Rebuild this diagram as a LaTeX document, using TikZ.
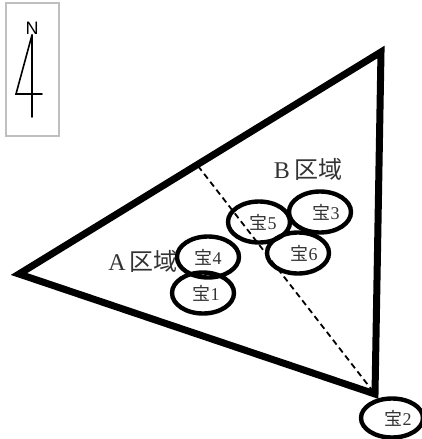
\documentclass[tikz,border=0pt]{standalone}
\usepackage{fontspec}
\setmainfont{Liberation Serif}
\setsansfont{Liberation Sans}
\newfontfamily\cjk{Noto Sans CJK JP}
\usetikzlibrary{shapes.geometric}
\tikzset{
  treasure/.style={ellipse,draw=black,line width=4.4pt,text=black!80,minimum width=62pt,minimum height=41pt,inner sep=0pt,font=\fontsize{18}{18}\selectfont},
  edgeline/.style={line width=7pt,line join=miter,miter limit=10},
  split/.style={line width=1.8pt,dash pattern=on 6pt off 4pt},
  compass/.style={line width=1.6pt,line cap=round},
  zone/.style={inner sep=0pt,text=black!80,font=\fontsize{24}{24}\selectfont}
}
\newcommand{\takara}[1]{{\cjk 宝}#1}
\begin{document}
\begin{tikzpicture}[x=1pt,y=-1pt]
\useasboundingbox (0,0) rectangle (422,439);
% compass
\node[draw=black!25,line width=1.2pt,minimum width=53pt,minimum height=133pt,inner sep=0pt] (box) at (32.5,69.5) {};
\node[font=\sffamily\fontsize{18}{18}\selectfont,inner sep=0pt] (north) at (32,28) {N};
\coordinate (tip) at (32,35);
\coordinate (tail) at (32,117);
\coordinate (wing) at (16,94);
\coordinate (wingr) at (42,94);
\draw[compass] (tip) -- (tail);
\draw[compass] (tip) -- (wing) -- (wingr);
% triangle
\coordinate (w) at (19,274);
\coordinate (ne) at (381,52);
\coordinate (se) at (375,394);
\coordinate (d) at (198,166);
\draw[edgeline] (w) -- (ne) -- (se) -- cycle;
\draw[split] (d) -- (se);
% zones
\node[zone] (za) at (143,261) {A\,{\cjk 区域}};
\node[zone] (zb) at (308,169) {B\,{\cjk 区域}};
% treasures
\node[treasure] (t1) at (203,293) {\hspace{6pt}\takara{1}};
\node[treasure] (t4) at (208,257) {\takara{4}};
\node[treasure] (t5) at (259,222) {\hspace{8pt}\takara{5}};
\node[treasure] (t3) at (320,212) {\hspace{12pt}\takara{3}};
\node[treasure] (t6) at (298,253) {\hspace{12pt}\takara{6}};
\node[treasure,minimum height=39pt] (t2) at (392,418) {\hspace{12pt}\takara{2}};
\end{tikzpicture}
\end{document}
